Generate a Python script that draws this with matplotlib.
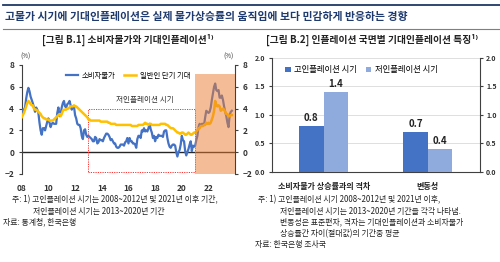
import numpy as np
import matplotlib
matplotlib.use("Agg")
import matplotlib.pyplot as plt
from matplotlib.patches import Rectangle
from matplotlib.lines import Line2D

plt.rcParams['font.family'] = ['Noto Sans CJK KR', 'DejaVu Sans']

# 소비자물가 상승률 (전년동월비, %), 2008.1 ~ 2023.10
cpi = [3.9, 3.6, 3.9, 4.1, 4.9, 5.5, 5.9, 5.6, 5.1, 4.8, 4.5, 4.1,
       3.7, 4.1, 3.9, 3.6, 2.7, 2.0, 1.6, 2.2, 2.2, 2.0, 2.4, 2.8,
       3.1, 2.7, 2.3, 2.6, 2.7, 2.6, 2.6, 2.6, 3.6, 4.1, 3.3, 3.5,
       4.1, 4.5, 4.7, 4.2, 4.1, 4.4, 4.5, 4.7, 4.3, 3.9, 4.2, 4.2,
       3.4, 3.1, 2.6, 2.5, 2.5, 2.2, 1.5, 1.2, 2.0, 2.1, 1.6, 1.4,
       1.5, 1.4, 1.3, 1.2, 1.0, 1.0, 1.4, 1.3, 0.8, 0.9, 1.2, 1.1,
       1.1, 1.0, 1.3, 1.5, 1.7, 1.7, 1.6, 1.4, 1.1, 1.2, 1.0, 0.8,
       0.8, 0.5, 0.4, 0.4, 0.5, 0.7, 0.7, 0.7, 0.6, 0.9, 1.0, 1.3,
       0.8, 1.3, 1.0, 1.0, 0.8, 0.8, 0.7, 0.4, 1.2, 1.5, 1.5, 1.3,
       2.0, 1.9, 2.2, 1.9, 2.0, 1.9, 2.2, 2.6, 2.1, 1.8, 1.3, 1.5,
       1.0, 1.4, 1.3, 1.6, 1.5, 1.5, 1.5, 1.4, 1.9, 2.0, 2.0, 1.3,
       0.8, 0.5, 0.4, 0.6, 0.7, 0.7, 0.6, 0.0, -0.4, 0.0, 0.2, 0.7,
       1.5, 1.1, 1.0, 0.1, -0.3, 0.0, 0.3, 0.7, 1.0, 0.1, 0.6, 0.5,
       0.6, 1.1, 1.5, 2.3, 2.6, 2.4, 2.6, 2.6, 2.5, 3.2, 3.8, 3.7,
       3.6, 3.7, 4.1, 4.8, 5.4, 6.0, 6.3, 5.7, 5.6, 5.7, 5.0, 5.0,
       5.2, 4.8, 4.2, 3.7, 3.3, 2.7, 2.3, 3.4, 3.7, 3.8]

# 일반인 단기 기대인플레이션 (%)
expect = [3.2, 3.4, 3.6, 3.9, 4.2, 4.5, 4.7, 4.6, 4.4, 4.3, 4.3, 4.0,
          3.9, 3.9, 3.8, 3.7, 3.6, 3.5, 3.3, 3.2, 3.1, 3.1, 3.0, 3.0,
          3.0, 2.9, 2.9, 2.9, 2.9, 3.0, 3.1, 3.2, 3.3, 3.4, 3.5, 3.3,
          3.5, 3.8, 3.9, 3.9, 3.9, 4.0, 4.0, 4.1, 4.2, 4.2, 4.2, 4.3,
          4.2, 4.2, 4.1, 4.0, 3.9, 3.8, 3.7, 3.6, 3.5, 3.4, 3.3, 3.2,
          3.0, 3.0, 2.9, 2.9, 2.9, 2.9, 2.9, 2.9, 2.9, 2.9, 2.9, 2.8,
          2.8, 2.8, 2.8, 2.8, 2.8, 2.8, 2.7, 2.7, 2.6, 2.6, 2.6, 2.6,
          2.6, 2.5, 2.5, 2.5, 2.5, 2.5, 2.5, 2.5, 2.5, 2.5, 2.5, 2.5,
          2.5, 2.5, 2.5, 2.4, 2.4, 2.4, 2.4, 2.4, 2.4, 2.5, 2.5, 2.5,
          2.5, 2.5, 2.6, 2.7, 2.6, 2.6, 2.5, 2.6, 2.6, 2.5, 2.5, 2.5,
          2.5, 2.5, 2.5, 2.5, 2.5, 2.6, 2.6, 2.6, 2.6, 2.6, 2.5, 2.5,
          2.4, 2.3, 2.2, 2.2, 2.2, 2.1, 2.0, 1.9, 1.8, 1.8, 1.7, 1.7,
          1.8, 1.8, 1.7, 1.6, 1.6, 1.7, 1.8, 1.7, 1.6, 1.6, 1.7, 1.8,
          1.8, 1.9, 2.0, 2.2, 2.2, 2.4, 2.4, 2.4, 2.5, 2.5, 2.7, 2.6,
          2.7, 2.6, 2.7, 3.0, 3.3, 3.8, 4.7, 4.3, 4.2, 4.3, 4.2, 3.8,
          3.9, 4.0, 3.9, 3.7, 3.5, 3.5, 3.3, 3.3, 3.4, 3.4]

year_ticks = [2008, 2010, 2012, 2014, 2016, 2018, 2020, 2022]
year_labels = ['08', '10', '12', '14', '16', '18', '20', '22']

bar_cats = ['소비자물가 상승률과의 격차', '변동성']
high_infl = [0.8, 0.7]
low_infl = [1.4, 0.4]

blue = '#4472C4'
yellow = '#FFC000'
dark_bar = '#4472C4'
light_bar = '#8FAADC'
tick_col = '#404040'

fig = plt.figure(figsize=(5.0, 2.62), dpi=100)

# 상단 제목 영역
fig.add_artist(Line2D([0.005, 1.0], [0.981, 0.981], color='#1F3864', lw=1.3))
fig.text(0.01, 0.935, '고물가 시기에 기대인플레이션은 실제 물가상승률의 움직임에 보다 민감하게 반응하는 경향',
         fontsize=7.8, color='#1F3A6E', weight='bold', va='center')
fig.add_artist(Line2D([0.005, 1.0], [0.888, 0.888], color='#7F7F7F', lw=0.8))
fig.text(0.255, 0.848, '[그림 B.1] 소비자물가와 기대인플레이션¹⁾', fontsize=7.0,
         weight='bold', ha='center', va='center', color='#222222')
fig.text(0.745, 0.848, '[그림 B.2] 인플레이션 국면별 기대인플레이션 특징¹⁾', fontsize=7.0,
         weight='bold', ha='center', va='center', color='#222222')

# ---- 왼쪽: 소비자물가와 기대인플레이션
ax = fig.add_axes([0.0434, 0.336, 0.427, 0.416])
x = 2008 + np.arange(len(cpi)) / 12.0
ax.plot(x, cpi, color=blue, lw=1.6, label='소비자물가', zorder=3)
ax.plot(x, expect, color=yellow, lw=1.8, label='일반인 단기 기대', zorder=3)
ax.axhline(0, color='#262626', lw=1.0, zorder=2)
ax.add_patch(Rectangle((2021, -2), 3, 9.2, facecolor='#ED7D31', alpha=0.5,
                       edgecolor='none', zorder=4))
ax.add_patch(Rectangle((2013, -1.8), 8, 5.8, facecolor='none', edgecolor='#FF3030',
                       lw=0.7, ls=(0, (1.2, 1.2)), zorder=2))
ax.text(2017.2, 4.8, '저인플레이션 시기', fontsize=5.5, ha='center', va='center', color='#333333')
ax.set_xlim(2008, 2024)
ax.set_ylim(-2, 8)
ax.set_yticks([-2, 0, 2, 4, 6, 8])
ax.set_xticks(year_ticks)
ax.set_xticklabels(year_labels)
ax.spines['top'].set_visible(False)
ax.spines['bottom'].set_visible(False)
for s in ['left', 'right']:
    ax.spines[s].set_color(tick_col)
    ax.spines[s].set_linewidth(0.8)
ax.tick_params(axis='y', left=True, right=True, labelright=True, length=2.5,
               width=0.8, color=tick_col, labelsize=6, labelcolor='#333333', pad=3)
ax.tick_params(axis='x', bottom=False, labelsize=6, labelcolor='#333333', pad=4)
for lab in ax.get_xticklabels():
    lab.set_fontweight('bold')
for t in ax.yaxis.get_major_ticks():
    t.label1.set_fontweight('bold')
    t.label2.set_fontweight('bold')
ax.text(0.02, 1.06, '(%)', transform=ax.transAxes, fontsize=4.5, ha='center', color='#333333')
ax.text(0.97, 1.06, '(%)', transform=ax.transAxes, fontsize=4.5, ha='center', color='#333333')
ax.legend(loc='upper center', bbox_to_anchor=(0.5, 1.0), ncol=2, frameon=False,
          fontsize=5.3, handlelength=1.6, columnspacing=1.2, handletextpad=0.5)

# ---- 오른쪽: 국면별 기대인플레이션 특징
bx = fig.add_axes([0.543, 0.344, 0.417, 0.435])
pos = np.arange(len(bar_cats))
w = 0.235
b1 = bx.bar(pos - w / 2, high_infl, w, color=dark_bar, label='고인플레이션 시기', zorder=3)
b2 = bx.bar(pos + w / 2, low_infl, w, color=light_bar, label='저인플레이션 시기', zorder=3)
for bars in (b1, b2):
    for r in bars:
        bx.text(r.get_x() + r.get_width() / 2, r.get_height() + 0.06, f'{r.get_height():.1f}',
                ha='center', va='bottom', fontsize=7, weight='bold', color='#222222')
bx.set_xlim(-0.5, 1.5)
bx.set_ylim(0, 2.0)
bx.set_yticks([0.0, 0.5, 1.0, 1.5, 2.0])
bx.set_yticklabels(['0.0', '0.5', '1.0', '1.5', '2.0'])
bx.set_xticks(pos)
bx.set_xticklabels(bar_cats)
bx.yaxis.grid(True, color='#D9D9D9', lw=0.6, zorder=0)
bx.set_axisbelow(True)
bx.spines['top'].set_visible(False)
for s in ['left', 'right', 'bottom']:
    bx.spines[s].set_color(tick_col)
    bx.spines[s].set_linewidth(0.8)
bx.tick_params(axis='y', left=True, right=True, labelright=True, length=2.5, width=0.8,
               color=tick_col, labelsize=5, labelcolor='#333333', pad=2)
bx.tick_params(axis='x', bottom=False, labelsize=5.8, labelcolor='#222222', pad=4)
for lab in bx.get_xticklabels():
    lab.set_fontweight('bold')
for t in bx.yaxis.get_major_ticks():
    t.label1.set_fontweight('bold')
    t.label2.set_fontweight('bold')
bx.legend(loc='upper left', bbox_to_anchor=(0.03, 1.0), ncol=2, frameon=False,
          fontsize=6, handlelength=0.7, handleheight=0.7, columnspacing=1.0, handletextpad=0.4)

# ---- 주석
fs = 5.7
fig.text(0.024, 0.236, '주: 1) 고인플레이션 시기는 2008~2012년 및 2021년 이후 기간,', fontsize=fs, va='center', color='#222222')
fig.text(0.066, 0.194, '저인플레이션 시기는 2013~2020년 기간', fontsize=fs, va='center', color='#222222')
fig.text(0.006, 0.152, '자료: 통계청, 한국은행', fontsize=fs, va='center', color='#222222')

fig.text(0.516, 0.236, '주: 1) 고인플레이션 시기 2008~2012년 및 2021년 이후,', fontsize=fs, va='center', color='#222222')
fig.text(0.56, 0.194, '저인플레이션 시기는 2013~2020년 기간을 각각 나타냄.', fontsize=fs, va='center', color='#222222')
fig.text(0.56, 0.152, '변동성은 표준편차, 격차는 기대인플레이션과 소비자물가', fontsize=fs, va='center', color='#222222')
fig.text(0.56, 0.110, '상승률간 차이(절대값)의 기간중 평균', fontsize=fs, va='center', color='#222222')
fig.text(0.51, 0.068, '자료: 한국은행 조사국', fontsize=fs, va='center', color='#222222')

fig.savefig('out.png', dpi=100)
